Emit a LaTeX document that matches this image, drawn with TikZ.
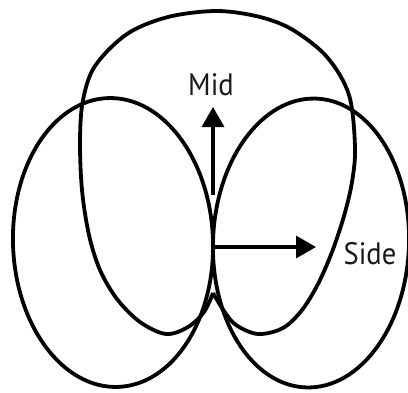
\documentclass[tikz,border=0pt]{standalone}
\usepackage{fontspec}
\setmainfont{PT Sans}
\usetikzlibrary{arrows.meta}
\tikzset{
  outline/.style={draw=black, line width=3.8pt},
  pointer/.style={draw=black, line width=3.4pt, -{Triangle[length=20pt,width=22pt]}},
  lbl/.style={font=\fontsize{31}{33}\selectfont, inner sep=0pt, text=black!90}
}
\begin{document}
\begin{tikzpicture}[x=1pt,y=-1pt]
\useasboundingbox (0,0) rectangle (408,392);
\clip (0,0) rectangle (408,392);
% two side lobes
\draw[outline, rotate around={2:(113,242.5)}] (113,242.5) ellipse [x radius=100, y radius=144.5];
\draw[outline, rotate around={-2:(311,243)}] (311,243) ellipse [x radius=98, y radius=144.5];
% mid pattern
\draw[outline, line join=miter] plot[smooth, tension=0.55] coordinates {
 (213,293) (204,312) (188,327) (166,334) (140,322) (117,299) (100,270) (89,235) (82,190) (80,140)
 (83,100) (95,66) (127,34) (168,17) (217,11) (260,17) (293,30) (327,57) (349,95)
 (355,147) (352,182) (344,216) (332,252) (318,284) (302,310) (283,328) (258,334)
 (236,325) (224,311) (213,293)};
% arrows
\coordinate (o) at (213,247);
\coordinate (midbase) at (213,195);
\coordinate (midtip) at (213,107);
\coordinate (sidetip) at (316,247);
\draw[pointer] (midbase) -- (midtip);
\draw[pointer] (o) -- (sidetip);
\node[lbl] (mid) at (211,85) {\scalebox{0.92}[1]{Mid}};
\node[lbl] (side) at (370,254) {\scalebox{0.92}[1]{Side}};
\end{tikzpicture}
\end{document}
